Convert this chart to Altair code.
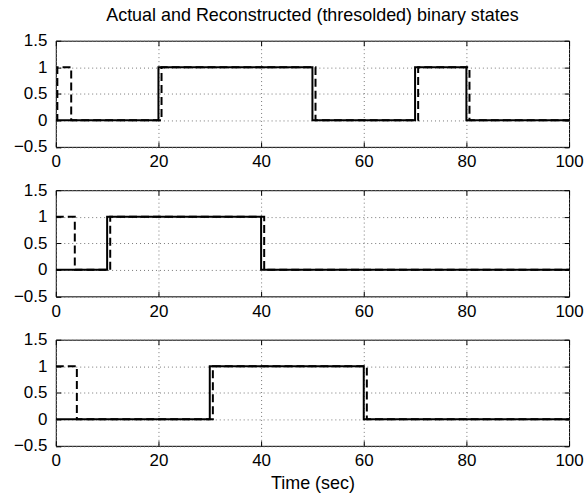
import altair as alt
import pandas as pd

# Switching instants (sec) and binary levels for each of the three states.
# "Actual" is the true state, "Reconstructed" the thresholded estimate.
actual_t = [
    [0, 20, 50, 70, 80, 100],
    [0, 10, 40, 100],
    [0, 30, 60, 100],
]
actual_v = [
    [0, 1, 0, 1, 0, 0],
    [0, 1, 0, 0],
    [0, 1, 0, 0],
]
recon_t = [
    [0, 0.3, 3.0, 20.6, 50.6, 70.6, 80.6, 100],
    [0, 3.7, 10.6, 40.6, 100],
    [0, 4.1, 30.6, 60.6, 100],
]
recon_v = [
    [0, 1, 0, 1, 0, 1, 0, 0],
    [1, 0, 1, 0, 0],
    [1, 0, 1, 0, 0],
]

x_ticks = [0, 20, 40, 60, 80, 100]
y_ticks = [-0.5, 0, 0.5, 1, 1.5]
title_text = "Actual and Reconstructed (thresolded) binary states"
x_title = "Time (sec)"

FONT = "Liberation Sans"
LABEL_SIZE = 17
TITLE_SIZE = 18
W, H = 515, 106.5


def frame(series, ts, vs, panel):
    return pd.DataFrame({"t": ts, "v": vs, "series": series, "panel": panel})


def panel_chart(i, last=False, title=None):
    act = frame("Actual", actual_t[i], actual_v[i], i)
    rec = frame("Reconstructed", recon_t[i], recon_v[i], i)

    # MATLAB-style inward ticks: shift each axis into the plot by the tick length
    x_bottom = alt.Axis(
        values=x_ticks, grid=True, domain=False, ticks=True, tickSize=5,
        offset=-5, labelPadding=7, title=x_title if last else None,
        titleFontWeight="normal", titlePadding=6, orient="bottom",
    )
    y_left = alt.Axis(
        values=y_ticks, grid=True, domain=False, ticks=True, tickSize=5,
        offset=-5, labelPadding=9, format="~g", title=None, orient="left",
    )
    x_top = alt.Axis(
        values=x_ticks, grid=False, domain=False, ticks=True, tickSize=5,
        offset=-5, labels=False, title=None, orient="top", minExtent=0,
    )
    y_right = alt.Axis(
        values=y_ticks, grid=False, domain=False, ticks=True, tickSize=5,
        offset=-5, labels=False, title=None, orient="right", minExtent=0,
    )
    xs = alt.Scale(domain=[0, 100], nice=False, zero=False)
    ys = alt.Scale(domain=[-0.5, 1.5], nice=False, zero=False)

    dashed = alt.Chart(rec).mark_line(
        interpolate="step-after", color="black", strokeWidth=2,
        strokeDash=[8, 4], clip=True,
    ).encode(
        x=alt.X("t:Q", scale=xs, axis=x_top),
        y=alt.Y("v:Q", scale=ys, axis=y_right),
    )
    solid = alt.Chart(act).mark_line(
        interpolate="step-after", color="black", strokeWidth=2, clip=True,
    ).encode(
        x=alt.X("t:Q", scale=xs, axis=x_bottom),
        y=alt.Y("v:Q", scale=ys, axis=y_left),
    )
    layer = alt.layer(dashed, solid).resolve_axis(x="independent", y="independent")
    props = dict(width=W, height=H)
    if title:
        props["title"] = alt.Title(
            title, fontSize=TITLE_SIZE, fontWeight="normal", font=FONT,
            color="black", offset=7, anchor="middle", frame="group",
        )
    return layer.properties(**props)


chart = alt.vconcat(
    panel_chart(0, title=title_text),
    panel_chart(1),
    panel_chart(2, last=True),
    spacing=43,
    bounds="flush",
).properties(
    padding={"left": 12, "top": 5, "right": 0, "bottom": 5},
    background="white",
).configure_view(
    stroke="black", strokeWidth=1,
).configure_axis(
    labelFont=FONT, titleFont=FONT, labelFontSize=LABEL_SIZE,
    titleFontSize=TITLE_SIZE, labelColor="black", titleColor="black",
    tickColor="black", gridColor="#777777", gridDash=[1, 3], gridWidth=1,
    gridOpacity=1, labelFlush=False, labelOverlap=False,
).configure_title(font=FONT)

chart.save("out.html", embed_options={"renderer": "svg", "actions": False})
